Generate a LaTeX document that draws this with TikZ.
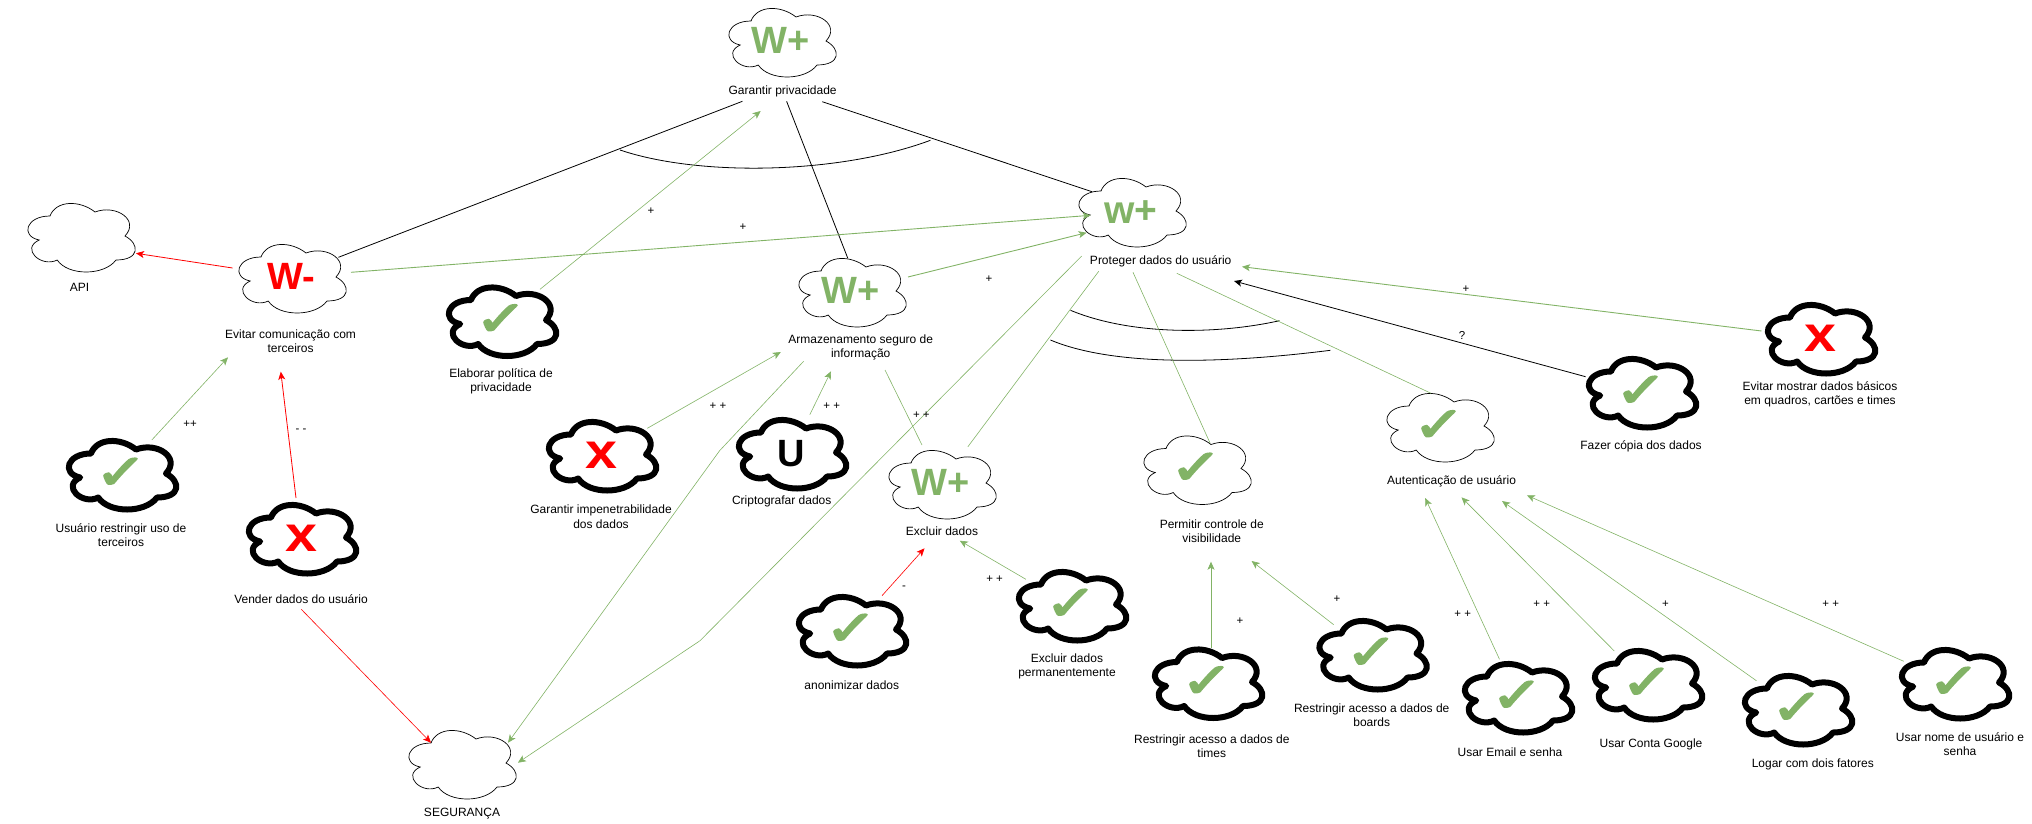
\documentclass[tikz,border=0pt]{standalone}
\usepackage{fontspec}
\setmainfont{Liberation Sans}
\newfontfamily\chkfont[FakeBold=4,FakeStretch=1.3]{DejaVu Sans}
\usetikzlibrary{arrows.meta}
\definecolor{gr}{HTML}{82B366}
\definecolor{rd}{HTML}{FF0000}
\tikzset{
  thincloud/.style={draw=black,line width=0.7pt},
  thickcloud/.style={draw=black,line width=6pt,line join=round},
  anchorbox/.style={minimum width=120pt,minimum height=80pt,inner sep=0pt,draw=none},
  lbl/.style={font=\fontsize{12}{14}\selectfont,align=center,inner sep=0pt,text=black},
  elbl/.style={font=\fontsize{11.5}{13}\selectfont,inner sep=0pt,text=black},
  wglyph/.style={font=\fontsize{38}{38}\selectfont\bfseries,inner sep=0pt,anchor=base,yshift=-12.8pt,text=gr},
  wred/.style={font=\fontsize{38}{38}\selectfont\bfseries,inner sep=0pt,anchor=base,yshift=-12.8pt,text=rd},
  wlow/.style={font=\fontsize{39}{39}\selectfont\bfseries,inner sep=0pt,anchor=base,yshift=-12.5pt,text=gr},
  uglyph/.style={font=\fontsize{38}{38}\selectfont\bfseries,inner sep=0pt,anchor=base,yshift=-13.5pt,text=black},
  xglyph/.style={font=\fontsize{50}{50}\selectfont\bfseries,inner sep=0pt,anchor=base,yshift=-14.2pt,text=rd},
  cglyph/.style={font=\chkfont\fontsize{48}{48}\selectfont,inner sep=0pt,text=gr},
  tip/.style={-{Stealth[length=8pt,width=7pt,inset=2pt]}},
  blk/.style={draw=black,line width=0.8pt},
  grn/.style={draw=gr,line width=0.6pt},
  grna/.style={draw=gr,line width=0.6pt,tip},
  grnb/.style={draw=gr,line width=0.9pt,tip},
  red/.style={draw=rd,line width=0.8pt,tip},
  redt/.style={draw=rd,line width=0.6pt,tip},
  blka/.style={draw=black,line width=0.8pt,tip},
  andarc/.style={draw=black,line width=0.8pt},
}
\newcommand{\cloudbox}[4]{%
  \draw[#4,shift={(#2,#3)}] (-30,-20) .. controls (-54,-20) and (-60,0) .. (-40.8,4)
    .. controls (-60,12.8) and (-38.4,32) .. (-22.8,24)
    .. controls (-12,40) and (24,40) .. (36,24)
    .. controls (60,24) and (60,8) .. (45,0)
    .. controls (60,-16) and (36,-32) .. (15,-24)
    .. controls (0,-36) and (-24,-36) .. (-30,-20) -- cycle;
  \node[anchorbox] (#1) at (#2,#3) {};}
\newcommand{\lnk}[5]{\draw[#1] ([shift={(#3)}]#2.center) -- ([shift={(#5)}]#4.center);}
\begin{document}
\begin{tikzpicture}[x=1pt,y=-1pt]
\useasboundingbox (0,0) rectangle (2032,823);
% clouds
\cloudbox{api}{80}{236}{thincloud}
\cloudbox{wm}{291}{277}{thincloud}
\cloudbox{elab}{501}{320}{thickcloud}
\cloudbox{gar}{781}{41}{thincloud}
\cloudbox{prot}{1131}{211}{thincloud}
\cloudbox{arm}{851}{291}{thincloud}
\cloudbox{aut}{1439}{426}{thincloud}
\cloudbox{faz}{1641}{391.5}{thickcloud}
\cloudbox{emo}{1820}{337.5}{thickcloud}
\cloudbox{usr}{121}{473.5}{thickcloud}
\cloudbox{ven}{301}{537.5}{thickcloud}
\cloudbox{imp}{601}{454.5}{thickcloud}
\cloudbox{seg}{461}{763}{thincloud}
\cloudbox{cri}{791}{452.5}{thickcloud}
\cloudbox{exc}{941}{483}{thincloud}
\cloudbox{ano}{851}{629.5}{thickcloud}
\cloudbox{epe}{1071}{604.5}{thickcloud}
\cloudbox{per}{1196}{468.5}{thincloud}
\cloudbox{rti}{1207}{682}{thickcloud}
\cloudbox{rbo}{1371.5}{653.5}{thickcloud}
\cloudbox{ema}{1517}{696.5}{thickcloud}
\cloudbox{goo}{1647}{683.5}{thickcloud}
\cloudbox{lgr}{1797}{708.5}{thickcloud}
\cloudbox{uno}{1954}{682.5}{thickcloud}
% glyphs
\node[wred] (wmg) at (wm.center) {W-};
\node[wglyph] (garg) at (gar.center) {W+};
\node[wlow] (protg) at (prot.center) {w+};
\node[wglyph] (armg) at (arm.center) {W+};
\node[wglyph] (excg) at (exc.center) {W+};
\node[uglyph] (crig) at (cri.center) {U};
\node[xglyph] (emog) at (emo.center) {\scalebox{1.15}[1]{x}};
\node[xglyph] (veng) at (ven.center) {\scalebox{1.15}[1]{x}};
\node[xglyph] (impg) at (imp.center) {\scalebox{1.15}[1]{x}};
\node[cglyph] (elabg) at (elab.center) {✓};
\node[cglyph] (autg) at (aut.center) {✓};
\node[cglyph] (fazg) at (faz.center) {✓};
\node[cglyph] (usrg) at (usr.center) {✓};
\node[cglyph] (anog) at (ano.center) {✓};
\node[cglyph] (epeg) at (epe.center) {✓};
\node[cglyph] (perg) at (per.center) {✓};
\node[cglyph] (rtig) at (rti.center) {✓};
\node[cglyph] (rbog) at (rbo.center) {✓};
\node[cglyph] (emag) at (ema.center) {✓};
\node[cglyph] (goog) at (goo.center) {✓};
\node[cglyph] (lgrg) at (lgr.center) {✓};
\node[cglyph] (unog) at (uno.center) {✓};
% labels
\node[lbl] (tapi) at (79.5,287) {API};
\node[lbl] (twm) at (290.6,341.7) {Evitar comunicação com\\terceiros};
\node[lbl] (telab) at (501,381) {Elaborar política de\\privacidade};
\node[lbl] (tgar) at (782.6,91.7) {Garantir privacidade};
\node[lbl] (tprot) at (1160.7,261.7) {Proteger dados do usuário};
\node[lbl] (tarm) at (860.7,347) {Armazenamento seguro de\\informação};
\node[lbl] (taut) at (1451.6,481.7) {Autenticação de usuário};
\node[lbl] (tfaz) at (1641,446.7) {Fazer cópia dos dados};
\node[lbl] (temo) at (1820,394.7) {Evitar mostrar dados básicos\\em quadros, cartões e times};
\node[lbl] (tusr) at (121,534.7) {Usuário restringir uso de\\terceiros};
\node[lbl] (tven) at (301,599.3) {Vender dados do usuário};
\node[lbl] (timp) at (601,516.7) {Garantir impenetrabilidade\\dos dados};
\node[lbl] (tseg) at (462,813.7) {SEGURANÇA};
\node[lbl] (tcri) at (781.7,501.7) {Criptografar dados};
\node[lbl] (texc) at (942,530.7) {Excluir dados};
\node[lbl] (tano) at (851.8,684.7) {anonimizar dados};
\node[lbl] (tepe) at (1067,666.7) {Excluir dados\\permanentemente};
\node[lbl] (tper) at (1211.8,530.7) {Permitir controle de\\visibilidade};
\node[lbl] (trti) at (1211.8,745.7) {Restringir acesso a dados de\\times};
\node[lbl] (trbo) at (1371.7,714.7) {Restringir acesso a dados de\\boards};
\node[lbl] (tema) at (1510,751.7) {Usar Email e senha};
\node[lbl] (tgoo) at (1651,744.7) {Usar Conta Google};
\node[lbl] (tlgr) at (1812.8,764.7) {Logar com dois fatores};
\node[lbl] (tuno) at (1960,743.7) {Usar nome de usuário e\\senha};
% AND arcs
\draw[andarc] (620,150) .. controls (700,177) and (840,174) .. (930.4,140.3);
\draw[andarc] (1070.5,310.3) .. controls (1130,335) and (1215,335) .. (1279.5,320.7);
\draw[andarc] (1050.4,340) .. controls (1110,365) and (1213,365) .. (1330.4,350.3);
% connectors
\lnk{blk}{wm}{47.4,-19.7}{gar}{-38.6,60.3}
\lnk{blk}{gar}{5.6,60.3}{arm}{-3.2,-32.7}
\lnk{blk}{gar}{41.3,60.7}{prot}{-39,-19.3}
\lnk{grna}{elab}{39,-30.7}{gar}{-20.3,70}
\lnk{grnb}{wm}{60,-4.7}{prot}{-40.4,4.3}
\lnk{grnb}{arm}{57,-14}{prot}{-44.4,21.7}
\lnk{grna}{usr}{30.8,-33.5}{wm}{-63,80.3}
\lnk{red}{ven}{-5,-39.5}{wm}{-10.2,94.7}
\lnk{red}{wm}{-58.4,-9}{api}{56,17.3}
\lnk{redt}{ven}{0.3,71.8}{seg}{-30,-20.3}
\coordinate (bend1) at (719.6,450.7);
\coordinate (bend2) at (700,640.7);
\draw[grna] ([shift={(-47.4,70.3)}]arm.center) -- (bend1) -- ([shift={(47,-20.3)}]seg.center);
\draw[grna] ([shift={(-49.3,45)}]prot.center) -- (bend2) -- ([shift={(56.9,-0.3)}]seg.center);
\lnk{grna}{imp}{46.3,-26.2}{arm}{-70.2,61}
\lnk{grna}{cri}{18.8,-37.8}{arm}{-20,80.3}
\lnk{grn}{arm}{34,79}{exc}{-19,-38}
\lnk{grn}{exc}{26.9,-36.3}{prot}{-32.3,60.3}
\lnk{grn}{per}{14,-25.5}{prot}{2,61.3}
\lnk{grn}{aut}{-8,-32.7}{prot}{45.8,62.3}
\lnk{blka}{faz}{-55.4,-14.8}{prot}{103,70}
\lnk{grnb}{emo}{-58.5,-6.5}{prot}{111,55.7}
\lnk{redt}{ano}{31,-33.8}{exc}{-16.5,65.3}
\lnk{grna}{epe}{-45.1,-25.2}{exc}{18.8,57.7}
\lnk{grna}{rti}{4,-34.3}{per}{15,93.2}
\lnk{grna}{rbo}{-37.8,-28.8}{per}{55.6,92.5}
\lnk{grna}{ema}{-17.5,-37.2}{aut}{-13.8,72}
\lnk{grna}{goo}{-32.7,-32.5}{aut}{22.5,71.3}
\lnk{grna}{lgr}{-40.6,-27.8}{aut}{63,75}
\lnk{grna}{uno}{-50.2,-21.2}{aut}{87.9,69.3}
% connector labels
\node[elbl] (e1) at (651,210.7) {+};
\node[elbl] (e2) at (743,226.7) {+};
\node[elbl] (e3) at (989,279) {+};
\node[elbl] (e4) at (718,406) {+ +};
\node[elbl] (e5) at (831.7,405.7) {+ +};
\node[elbl] (e6) at (921.4,415) {+ +};
\node[elbl] (e7) at (1466,289) {+};
\node[elbl] (e8) at (1462,335.7) {?};
\node[elbl] (e9) at (190,423.7) {++};
\node[elbl] (e10) at (301,431) {- -};
\node[elbl] (e11) at (904,588) {-};
\node[elbl] (e12) at (994.6,579) {+ +};
\node[elbl] (e13) at (1240,620.7) {+};
\node[elbl] (e14) at (1337,599.3) {+};
\node[elbl] (e15) at (1462.7,613.7) {+ +};
\node[elbl] (e16) at (1541.7,603.7) {+ +};
\node[elbl] (e17) at (1665.4,603.7) {+};
\node[elbl] (e18) at (1830.7,603.7) {+ +};
\end{tikzpicture}
\end{document}
